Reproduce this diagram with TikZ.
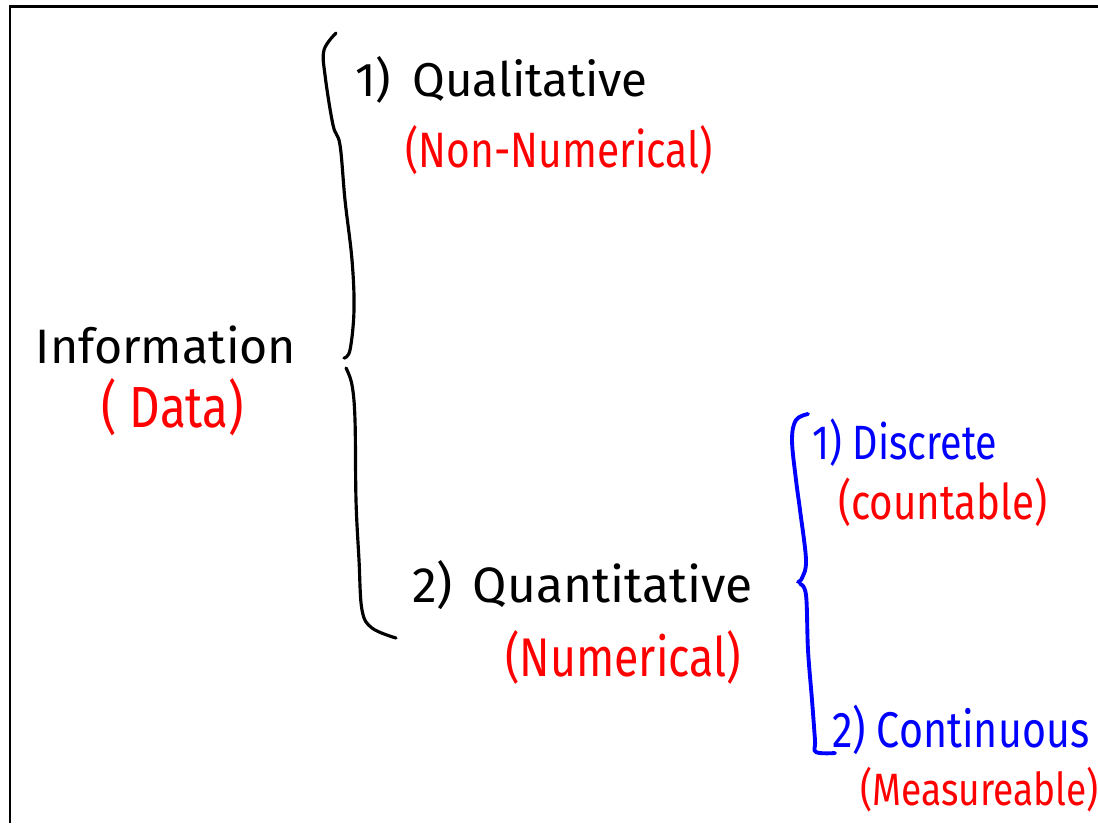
\documentclass[tikz,border=0pt]{standalone}
\usepackage{fontspec}
\setmainfont{Fira Sans}
\newfontfamily\handnarrow[FakeStretch=0.82]{Fira Sans}
\usepackage{xcolor}
\definecolor{inkblack}{RGB}{0,0,0}
\definecolor{inkred}{RGB}{255,0,0}
\definecolor{inkblue}{RGB}{0,0,255}
\usetikzlibrary{positioning}

\tikzset{
  blackword/.style={inkblack,anchor=west,inner sep=0pt,font=\fontsize{#1}{#1}\selectfont},
  redword/.style={inkred,anchor=west,inner sep=0pt,font=\handnarrow\fontsize{#1}{#1}\selectfont},
  blueword/.style={inkblue,anchor=west,inner sep=0pt,font=\handnarrow\fontsize{#1}{#1}\selectfont},
  brace/.style={line width=1.8pt,line cap=round,line join=round}
}

\begin{document}
\begin{tikzpicture}[x=0.02cm,y=-0.02cm]
  \useasboundingbox (0,0) rectangle (1098,823);
  % frame
  \draw[line width=1.7pt] (1098,6) -- (10,6) -- (10,823);
  % left side
  \node[blackword=27.5,anchor=center] (info) at (166,345) {Information};
  \node[redword=33,anchor=center] (data) at (173,407) {( Data)};
  % big brace
  \draw[brace] plot[smooth,tension=0.6] coordinates {(336,33) (324,50) (325,75) (333,125) (340,145) (345,200) (352,260) (354,310) (350,350) (344,358)};
  \draw[brace] plot[smooth,tension=0.6] coordinates {(346,368) (352,385) (355,420) (356,500) (359,560) (362,610) (372,628) (396,638)};
  % first branch
  \node[blackword=27] (qual) at (355,80) {1)\hspace{0.45em}Qualitative};
  \node[redword=28.3] (nonnum) at (405,150) {(Non-Numerical)};
  % second branch
  \node[blackword=28.3] (quant) at (412,585) {2)\hspace{0.4em}Quantitative};
  \node[redword=31] (num) at (505,657) {(Numerical)};
  % small brace
  \draw[brace,inkblue,line width=2.2pt] plot[smooth,tension=0.6] coordinates {(808,414) (796,420) (792,440) (796,480) (800,510) (806,560) (802,578) (798,582)};
  \draw[brace,inkblue,line width=2.2pt] plot[smooth,tension=0.6] coordinates {(800,584) (806,595) (808,650) (812,700) (815,740) (816,752) (835,753)};
  \node[blueword=27.4] (disc) at (812,443) {1) Discrete};
  \node[redword=28] (countable) at (838,502) {(countable)};
  \node[blueword=28.6] (cont) at (832,730) {2) Continuous};
  \node[redword=25.8] (measure) at (860,790) {(Measureable)};
\end{tikzpicture}
\end{document}
